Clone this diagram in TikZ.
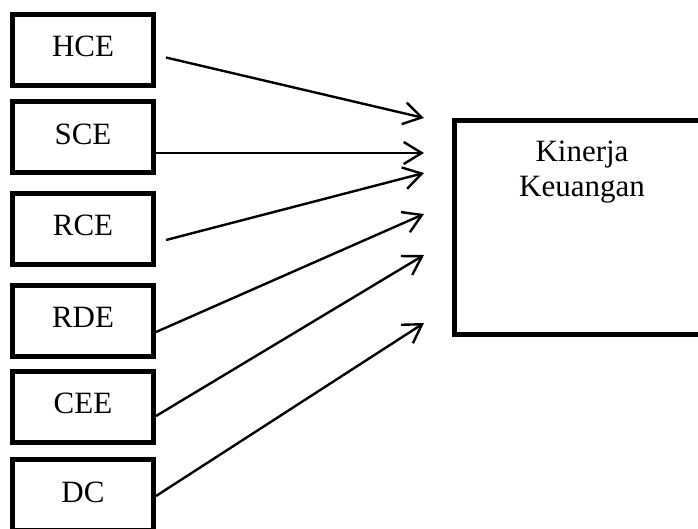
\documentclass[tikz,border=0pt]{standalone}
\usepackage{fontspec}
\setmainfont{Liberation Serif}
\usepackage{tikz}
\usetikzlibrary{arrows.meta,positioning}

\tikzset{
	varbox/.style={draw,line width=5pt,minimum width=141pt,minimum height=71pt,inner sep=0pt,text depth=6pt},
	panah/.style={line width=2.4pt,-{Straight Barb[length=18pt,width=22pt]}}
}

\begin{document}
\begin{tikzpicture}[x=1pt,y=-1pt,font=\fontsize{31}{35}\selectfont]
			\useasboundingbox (0,0) rectangle (698,528);
			
			% variabel independen
			\node[varbox] (hce) at (83,49.5) {HCE};
			\node[varbox] (sce) at (83,137) {SCE};
			\node[varbox] (rce) at (83,228.5) {RCE};
			\node[varbox] (rde) at (83,320.5) {RDE};
			\node[varbox] (cee) at (83,406.5) {CEE};
			\node[varbox] (dc) at (83,495) {DC};
			
			% variabel dependen
			\node[varbox,minimum width=256pt,minimum height=214pt] (kk) at (582,227.5) {};
			\node[anchor=north,align=center,inner sep=0pt] (kklabel) at ([yshift=-23pt]kk.north) {Kinerja\\Keuangan};
			
			\coordinate (t1) at (424,118);
			\coordinate (t2) at (424,153);
			\coordinate (t3) at (424,173);
			\coordinate (t4) at (424,214);
			\coordinate (t5) at (424,255);
			\coordinate (t6) at (424,323);
			
			\draw[panah] ([xshift=10pt,yshift=-8pt]hce.east)--(t1);
			\draw[panah] ([yshift=-16pt]sce.east)--(t2);
			\draw[panah] ([xshift=10pt,yshift=-11.5pt]rce.east)--(t3);
			\draw[panah] ([yshift=-11.5pt]rde.east)--(t4);
			\draw[panah] ([yshift=-9.5pt]cee.east)--(t5);
			\draw[panah] ([yshift=-1pt]dc.east)--(t6);
		\end{tikzpicture}
\end{document}
